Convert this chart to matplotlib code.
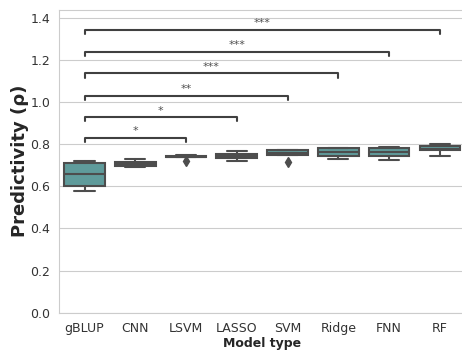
import matplotlib
matplotlib.use('Agg')
import matplotlib.pyplot as plt
import seaborn as sns

sns.set_style('whitegrid')

models = ['gBLUP', 'CNN', 'LSVM', 'LASSO', 'SVM', 'Ridge', 'FNN', 'RF']
medians = [0.659, 0.708, 0.742, 0.743, 0.760, 0.763, 0.765, 0.779]
q1s = [0.600, 0.698, 0.738, 0.733, 0.750, 0.746, 0.746, 0.771]
q3s = [0.711, 0.718, 0.746, 0.753, 0.772, 0.782, 0.785, 0.794]
whis_lo = [0.580, 0.692, 0.738, 0.721, 0.750, 0.729, 0.724, 0.747]
whis_hi = [0.720, 0.729, 0.750, 0.768, 0.775, 0.785, 0.787, 0.800]
outliers = [[], [], [0.721], [], [0.715], [], [], []]

# significance of each model vs gBLUP
sig_models = ['LSVM', 'LASSO', 'SVM', 'Ridge', 'FNN', 'RF']
sig_labels = ['*', '*', '**', '***', '***', '***']
sig_heights = [0.832, 0.930, 1.032, 1.138, 1.241, 1.346]

stats = []
for i, m in enumerate(models):
    stats.append({'label': m, 'med': medians[i], 'q1': q1s[i], 'q3': q3s[i],
                  'whislo': whis_lo[i], 'whishi': whis_hi[i], 'fliers': outliers[i]})

fig, ax = plt.subplots(figsize=(4.62, 3.52), dpi=100)
fig.subplots_adjust(left=0.128, right=1.007, bottom=0.112, top=0.972)

edge = '#4d4d4d'
ax.bxp(stats, positions=range(len(models)), widths=0.8, patch_artist=True,
       boxprops=dict(facecolor='#5f9b9b', edgecolor=edge, linewidth=1.5),
       medianprops=dict(color=edge, linewidth=1.5),
       whiskerprops=dict(color=edge, linewidth=1.5),
       capprops=dict(color=edge, linewidth=1.5),
       flierprops=dict(marker='d', markerfacecolor=edge, markeredgecolor=edge,
                       markersize=5))

for name, lab, h in zip(sig_models, sig_labels, sig_heights):
    x2 = models.index(name)
    ax.plot([0, 0, x2, x2], [h - 0.02, h, h, h - 0.02], color='#404040', lw=1.5)
    ax.text(x2 / 2, h + 0.006, lab, ha='center', va='bottom', fontsize=8,
            color='#505050')

ax.set_xlim(-0.5, len(models) - 0.5)
ax.set_ylim(0, 1.44)
ax.set_yticks([0.0, 0.2, 0.4, 0.6, 0.8, 1.0, 1.2, 1.4])
ax.grid(axis='x', visible=False)
ax.tick_params(labelsize=9, colors='#333333', pad=3)
ax.set_xlabel('Model type', fontsize=9, fontweight='bold', labelpad=2)
ax.set_ylabel('Predictivity (\u03c1)', fontsize=13, fontweight='bold', labelpad=1)

plt.savefig('out.png', dpi=100)
